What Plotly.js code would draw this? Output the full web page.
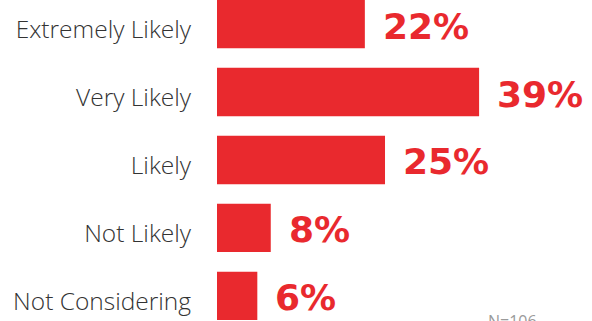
<!DOCTYPE html>
<html><head><meta charset="utf-8">
<script src="https://cdn.plot.ly/plotly-3.0.1.min.js"></script>
<style>html,body{margin:0;padding:0;background:#fff;}#chart{width:592px;height:321px;}</style>
</head><body><div id="chart"></div>
<script>
const categories = ["Extremely Likely", "Very Likely", "Likely", "Not Likely", "Not Considering"];
const values = [22, 39, 25, 8, 6];
const labels = ["22%", "39%", "25%", "8%", "6%"];
const note = "N=106";

const red = "#E9292E";
const trace = {
  type: "bar", orientation: "h",
  x: values, y: categories,
  marker: {color: red},
  width: 0.71,
  hoverinfo: "none"
};
const annotations = categories.map((c, i) => ({
  x: values[i], y: c, xref: "x", yref: "y",
  text: labels[i], showarrow: false, xanchor: "left", yanchor: "middle",
  xshift: 16, yshift: -2,
  font: {family: "DejaVu Sans", size: 36, color: red, weight: 700}
}));
annotations.push({
  x: 1, y: 0.04, xref: "paper", yref: "paper", xanchor: "left", yanchor: "top",
  xshift: -106, text: note, showarrow: false,
  font: {family: "Open Sans", size: 16, color: "#9a9a9a"}
});
const layout = {
  width: 592, height: 321,
  margin: {l: 217, r: 0, t: 0, b: 0},
  paper_bgcolor: "#fff", plot_bgcolor: "#fff",
  showlegend: false,
  xaxis: {range: [0, 55.8], visible: false, fixedrange: true},
  yaxis: {
    type: "category", categoryorder: "array", categoryarray: categories,
    range: [4.368, -0.353], showgrid: false, zeroline: false, showline: false,
    ticks: "", ticklabelstandoff: 25, ticklabelshift: -5,
    tickfont: {family: "Open Sans", size: 24.5, color: "#333333", weight: 300}
  },
  annotations: annotations
};
Plotly.newPlot("chart", [trace], layout, {displayModeBar: false, staticPlot: true});
</script></body></html>
